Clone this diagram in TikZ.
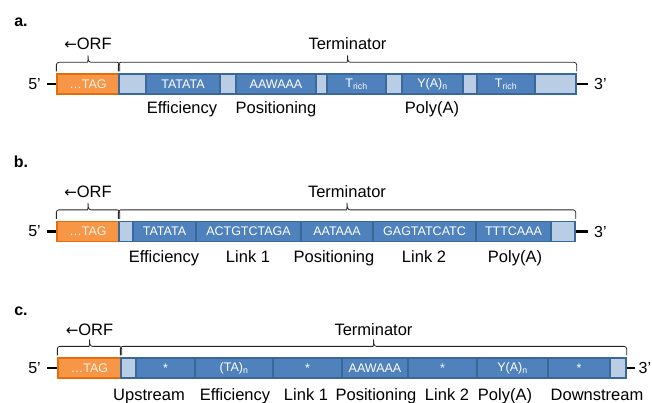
\documentclass[tikz,border=0pt]{standalone}
\usepackage{fontspec}
\setmainfont{Liberation Sans}
\newfontfamily\arrowfont{DejaVu Sans}
\usetikzlibrary{calc}

\definecolor{segdark}{HTML}{4F81BD}
\definecolor{seglight}{HTML}{B9CDE5}
\definecolor{segedge}{HTML}{3A6899}
\definecolor{orffill}{HTML}{F79646}
\definecolor{orfedge}{HTML}{E46C0A}

\tikzset{
  seg/.style={draw=segedge, line width=1.3pt, minimum height=20pt, inner sep=0pt,
    text=white, font=\fontsize{12.5}{14}\selectfont},
  darkseg/.style={seg, fill=segdark},
  lightseg/.style={seg, fill=seglight},
  orfseg/.style={seg, fill=orffill, draw=orfedge, text=white!88!orffill},
  lab/.style={font=\fontsize{16.5}{19}\selectfont, anchor=base, inner sep=0pt},
  endlab/.style={font=\fontsize{16}{19}\selectfont, inner sep=0pt},
  panel/.style={font=\bfseries\fontsize{16}{19}\selectfont, inner sep=0pt},
  bracepen/.style={draw=black!85, line width=0.8pt},
  strand/.style={line width=2.6pt},
}

% left-pointing arrow in front of ORF
\newcommand\orfarrow{{\arrowfont\fontsize{15}{19}\selectfont ←}}

% one block of the sequence bar: name, left x, right x, mid y, style, text
\newcommand\seg[6]{%
  \node[#5, minimum width={#3pt-#2pt}] (#1) at ({(#2+#3)/2},#4) {#6};}

% square-ended brace above two anchors
\newcommand\capbrace[2]{%
  \draw[bracepen] let \p1=(#1), \p2=(#2), \p3=($(#1)!.5!(#2)$) in
    (\x1,\y1+2pt) [rounded corners=2.5pt] -- (\x1,\y1+11pt) -- (\x3-3pt,\y1+11pt)
    [sharp corners] to[out=0,in=-90] (\x3,\y1+18pt) to[out=-90,in=180] (\x3+3pt,\y1+11pt)
    [rounded corners=2.5pt] -- (\x2,\y1+11pt) -- (\x2,\y1+2pt);}

\begin{document}
\begin{tikzpicture}[x=1pt,y=-1pt]
\useasboundingbox (0,0) rectangle (652,403);
\fill[white] (0,0) rectangle (652,403);

% ---------------- panel a ----------------
\node[panel] (pa) at (21,22) {a.};
\seg{a0}{57}{119}{84}{orfseg}{\ldots TAG}
\seg{a1}{119}{146}{84}{lightseg}{}
\seg{a2}{146}{220}{84}{darkseg}{TATATA}
\seg{a3}{220}{236}{84}{lightseg}{}
\seg{a4}{236}{316}{84}{darkseg}{AAWAAA}
\seg{a5}{316}{327}{84}{lightseg}{}
\seg{a6}{327}{386}{84}{darkseg}{T\textsubscript{rich}}
\seg{a7}{386}{402}{84}{lightseg}{}
\seg{a8}{402}{463}{84}{darkseg}{Y(A)\textsubscript{n}}
\seg{a9}{463}{477}{84}{lightseg}{}
\seg{a10}{477}{535}{84}{darkseg}{T\textsubscript{rich}}
\seg{a11}{535}{576}{84}{lightseg}{}
\coordinate (a5end) at (47,84);
\coordinate (a3end) at (588,84);
\draw[strand] (a5end) -- (a0.west);
\draw[strand] (a11.east) -- (a3end);
\node[endlab, anchor=east] (a5lab) at (41,84) {5'};
\node[endlab, anchor=west] (a3lab) at (594,84) {3'};
\capbrace{a0.north west}{a0.north east}
\capbrace{a1.north west}{a11.north east}
\node[lab] (aorf) at ($(a0.north)+(0,-24)$) {\orfarrow ORF};
\node[lab] (aterm) at ($(a1.north west)!.5!(a11.north east)+(0,-24)$) {Terminator};
\node[lab] (aeff) at (182,114) {Efficiency};
\node[lab] (apos) at (276,114) {Positioning};
\node[lab] (apoly) at (432,114) {Poly(A)};

% ---------------- panel b ----------------
\node[panel] (pb) at (21,162) {b.};
\seg{b0}{57}{119}{231.5}{orfseg}{\ldots TAG}
\seg{b1}{119}{133}{231.5}{lightseg}{}
\seg{b2}{133}{196}{231.5}{darkseg}{TATATA}
\seg{b3}{196}{301}{231.5}{darkseg}{ACTGTCTAGA}
\seg{b4}{301}{373}{231.5}{darkseg}{AATAAA}
\seg{b5}{373}{476}{231.5}{darkseg}{GAGTATCATC}
\seg{b6}{476}{551}{231.5}{darkseg}{TTTCAAA}
\seg{b7}{551}{575}{231.5}{lightseg}{}
\coordinate (b5end) at (47,231.5);
\coordinate (b3end) at (588,231.5);
\draw[strand] (b5end) -- (b0.west);
\draw[strand] (b7.east) -- (b3end);
\node[endlab, anchor=east] (b5lab) at (41,231.5) {5'};
\node[endlab, anchor=west] (b3lab) at (594,231.5) {3'};
\capbrace{b0.north west}{b0.north east}
\capbrace{b1.north west}{b7.north east}
\node[lab] (borf) at ($(b0.north)+(0,-23)$) {\orfarrow ORF};
\node[lab] (bterm) at ($(b1.north west)!.5!(b7.north east)+(0,-23)$) {Terminator};
\node[lab] (beff) at (164,262) {Efficiency};
\node[lab] (blk1) at (248,262) {Link 1};
\node[lab] (bpos) at (334,262) {Positioning};
\node[lab] (blk2) at (424,262) {Link 2};
\node[lab] (bpoly) at (515,262) {Poly(A)};

% ---------------- panel c ----------------
\node[panel] (pc) at (21,311) {c.};
\seg{c0}{58}{121}{368}{orfseg}{\ldots TAG}
\seg{c1}{121}{136}{368}{lightseg}{}
\seg{c2}{136}{195}{368}{darkseg}{*}
\seg{c3}{195}{273}{368}{darkseg}{(TA)\textsubscript{n}}
\seg{c4}{273}{342}{368}{darkseg}{*}
\seg{c5}{342}{408}{368}{darkseg}{AAWAAA}
\seg{c6}{408}{477}{368}{darkseg}{*}
\seg{c7}{477}{548}{368}{darkseg}{Y(A)\textsubscript{n}}
\seg{c8}{548}{610}{368}{darkseg}{*}
\seg{c9}{610}{626}{368}{lightseg}{}
\coordinate (c5end) at (47,368);
\coordinate (c3end) at (635,368);
\draw[strand] (c5end) -- (c0.west);
\draw[strand] (c9.east) -- (c3end);
\node[endlab, anchor=west] (c3lab) at (638.5,368) {3'};
\node[endlab, anchor=east] (c5lab) at (41,368) {5'};
\capbrace{c0.north west}{c0.north east}
\capbrace{c1.north west}{c9.north east}
\node[lab] (corf) at ($(c0.north)+(0,-22)$) {\orfarrow ORF};
\node[lab] (cterm) at ($(c1.north west)!.5!(c9.north east)+(0,-22)$) {Terminator};
\node[lab] (cup) at (149,400) {Upstream};
\node[lab] (ceff) at (235,400) {Efficiency};
\node[lab] (clk1) at (306,400) {Link 1};
\node[lab] (cpos) at (376,400) {Positioning};
\node[lab] (clk2) at (447,400) {Link 2};
\node[lab] (cpoly) at (505,400) {Poly(A)};
\node[lab] (cdown) at (597,400) {Downstream};
\end{tikzpicture}
\end{document}
